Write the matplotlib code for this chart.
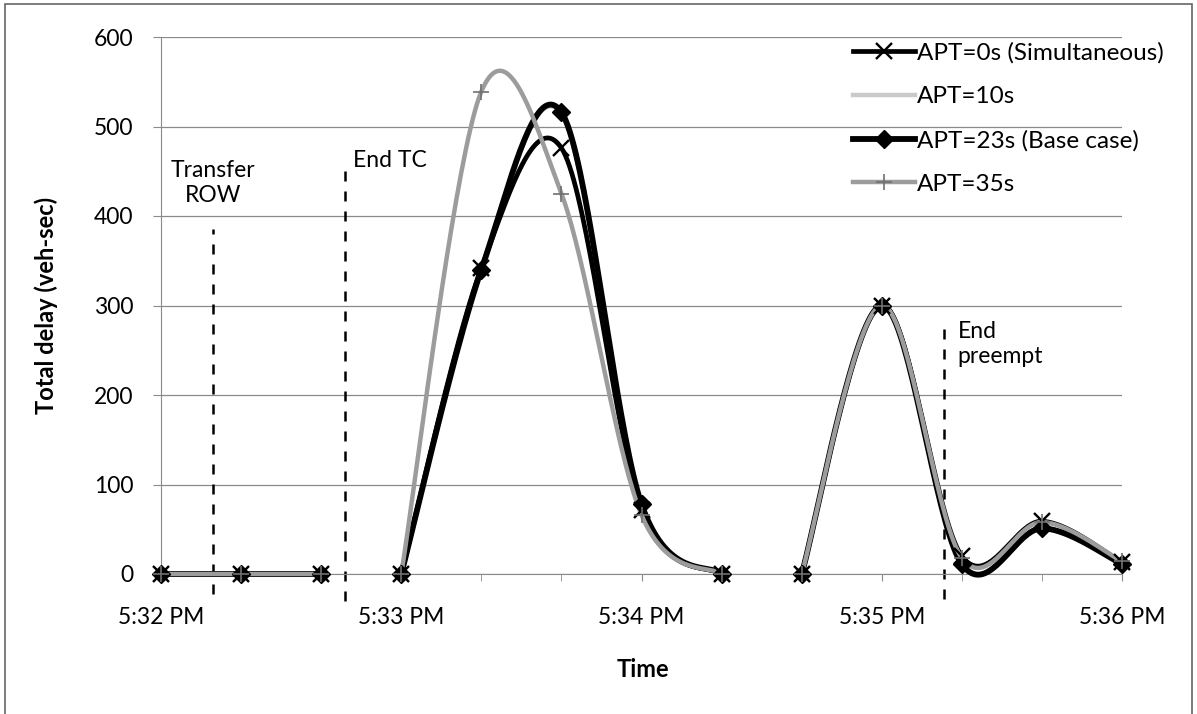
import numpy as np
import pandas as pd
import matplotlib
matplotlib.use("Agg")
import matplotlib.pyplot as plt
import matplotlib.dates as mdates
from matplotlib.lines import Line2D
from matplotlib.patches import Rectangle

# time stamps of the samples (20 s apart)
times = ["17:32:00", "17:32:20", "17:32:40", "17:33:00", "17:33:20", "17:33:40",
         "17:34:00", "17:34:20", "17:34:40", "17:35:00", "17:35:20", "17:35:40", "17:36:00"]
apt_0 = [0, 0, 0, 0, 342, 476, 72, 0, 0, 300, 20, 59, 13]
apt_10 = [0, 0, 0, 0, 340, 514, 78, 0, 0, 300, 11, 51, 11]
apt_23 = [0, 0, 0, 0, 340, 516, 78, 0, 0, 300, 11, 51, 11]
apt_35 = [0, 0, 0, 0, 539, 425, 66, 0, 0, 300, 18, 58, 14]
# lines are broken before these samples (blank cells in the sheet)
gap_idx = [3, 8]

events = ["17:32:13.000", "17:32:46.000", "17:35:15.500"]
event_labels = ["Transfer\nROW", "End TC", "End\npreempt"]

plt.rcParams['font.family'] = ['Lato', 'DejaVu Sans']

day = "2010-01-01 "
x = mdates.date2num(pd.to_datetime([day + t for t in times], format="mixed"))


def smooth(xs, ys, n=40):
    # excel style smoothed line: bezier through the points
    p = np.column_stack([np.asarray(xs, float), np.asarray(ys, float)])
    t = np.linspace(0, 1, n)
    outx, outy = [], []
    for i in range(len(p) - 1):
        p0 = p[i - 1] if i > 0 else p[i]
        p1, p2 = p[i], p[i + 1]
        p3 = p[i + 2] if i + 2 < len(p) else p[i + 1]
        c1 = p1 + (p2 - p0) / 6.0
        c2 = p2 - (p3 - p1) / 6.0
        b = ((1 - t) ** 3)[:, None] * p1 + (3 * (1 - t) ** 2 * t)[:, None] * c1 \
            + (3 * (1 - t) * t ** 2)[:, None] * c2 + (t ** 3)[:, None] * p2
        outx.extend(b[:, 0])
        outy.extend(b[:, 1])
    return np.array(outx), np.array(outy)


fig = plt.figure(figsize=(11.97, 7.14), dpi=100)
ax = fig.add_axes([161 / 1197, 1 - 574 / 714, (1122 - 161) / 1197, (574 - 37) / 714])

series = [
    ("APT=0s (Simultaneous)", apt_0, dict(color="black", lw=3.4, marker="x", ms=12, mew=1.7, mfc="black", mec="black")),
    ("APT=10s", apt_10, dict(color="#cacaca", lw=3.2, marker="none", ms=8, mew=1, mfc="#cacaca", mec="#cacaca")),
    ("APT=23s (Base case)", apt_23, dict(color="black", lw=4.2, marker="D", ms=9, mew=1, mfc="black", mec="black")),
    ("APT=35s", apt_35, dict(color="#9c9c9c", lw=3.2, marker="+", ms=11, mew=1.2, mfc="#707070", mec="#707070")),
]

handles = []
bounds = [0] + gap_idx + [len(times)]
for name, vals, st in series:
    # one smoothed piece per unbroken run of cells
    for a, b in zip(bounds[:-1], bounds[1:]):
        sx, sy = smooth(x[a:b], vals[a:b])
        ax.plot(sx, sy, color=st["color"], lw=st["lw"], solid_capstyle="round", zorder=3,
                clip_on=False)
    if st["marker"] != "none":
        ax.plot(x, vals, linestyle="none", marker=st["marker"], ms=st["ms"], mew=st["mew"],
                mfc=st["mfc"], mec=st["mec"], zorder=4, clip_on=False)
    handles.append(Line2D([], [], color=st["color"], lw=st["lw"], marker=st["marker"],
                          ms=st["ms"], mew=st["mew"], mfc=st["mfc"], mec=st["mec"]))

# event markers (dashed verticals)
ev = mdates.date2num(pd.to_datetime([day + t for t in events], format="mixed"))
dash = dict(colors="black", linestyles=(0, (4, 4)), lw=1.8, clip_on=False, zorder=2)
ax.vlines(ev[0], -22, 385, **dash)
ax.vlines(ev[1], -30, 462, **dash)
ax.vlines(ev[2], -28, 280, **dash)
sec = 1 / 86400
ax.text(ev[0], 437, event_labels[0], ha="center", va="center", fontsize=16.5)
ax.text(ev[1] + 2 * sec, 462, event_labels[1], ha="left", va="center", fontsize=16.5)
ax.text(ev[2] + 3.5 * sec, 257, event_labels[2], ha="left", va="center", fontsize=16.5,
        multialignment="left")

ax.set_xlim(x[0], x[-1])
ax.set_ylim(0, 600)
ax.set_yticks([0, 100, 200, 300, 400, 500, 600])
ax.yaxis.grid(True, color="#8a8a8a", lw=0.9)
ax.set_axisbelow(True)

ax.xaxis.set_major_locator(mdates.MinuteLocator())
ax.xaxis.set_minor_locator(mdates.SecondLocator(bysecond=[20, 40]))


def fmt(v, pos=None):
    d = mdates.num2date(v)
    h = d.hour % 12 or 12
    return "%d:%02d %s" % (h, d.minute, "PM" if d.hour >= 12 else "AM")


ax.xaxis.set_major_formatter(plt.FuncFormatter(fmt))
ax.tick_params(axis="x", which="both", direction="out", length=5, color="#8a8a8a",
               labelsize=16.5, pad=19)
ax.tick_params(axis="y", direction="out", length=6, color="#8a8a8a", labelsize=16.5, pad=14)

for s in ["top", "right"]:
    ax.spines[s].set_visible(False)
ax.spines["left"].set_color("#8a8a8a")
ax.spines["bottom"].set_color("#8a8a8a")

fig.text(46 / 1197, 1 - 305 / 714, "Total delay (veh-sec)", rotation=90, ha="center",
         va="center", fontsize=17, fontweight="bold")
fig.text(643 / 1197, 1 - 677 / 714, "Time", ha="center", va="baseline", fontsize=17,
         fontweight="bold")

fig.legend(handles, [s[0] for s in series], loc="upper left",
           bbox_to_anchor=(853 / 1197, 1 - 42 / 714), frameon=False, fontsize=17.5,
           handlelength=2.55, handletextpad=0.1, labelspacing=0.93, borderpad=0,
           borderaxespad=0)

fig.add_artist(Rectangle((0.004, -0.01), 0.992, 1.005, transform=fig.transFigure,
                         fill=False, edgecolor="#666666", lw=1.2))

fig.savefig("out.png", dpi=100)
